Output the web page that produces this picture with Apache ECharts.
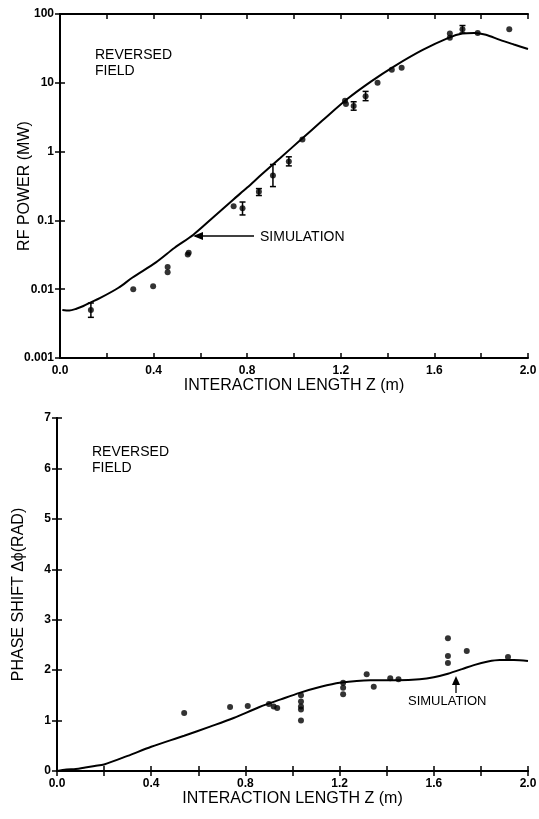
<!DOCTYPE html>
<html>
<head>
<meta charset="utf-8">
<script src="https://cdn.jsdelivr.net/npm/echarts@6/dist/echarts.min.js"></script>
<style>
html,body{margin:0;padding:0;background:#fff;}
#chart{width:539px;height:819px;}
</style>
</head>
<body>
<div id="chart"></div>
<script>
// ---------- DATA ----------
var xTicks = [0, 0.4, 0.8, 1.2, 1.6, 2.0];
var xTickLabels = ['0.0', '0.4', '0.8', '1.2', '1.6', '2.0'];
var powerTicks = [0.001, 0.01, 0.1, 1, 10, 100];
var powerTickLabels = ['0.001', '0.01', '0.1', '1', '10', '100'];
var phaseTickLabels = ['0', '1', '2', '3', '4', '5', '6', '7'];

// Top: RF power simulation curve [z, MW]
var powerSim = [
  [0.01,0.005],[0.04,0.0049],[0.07,0.0052],[0.1,0.0057],[0.13,0.0064],[0.17,0.0074],
  [0.25,0.0105],[0.31,0.0148],[0.41,0.0245],[0.49,0.04],[0.57,0.062],[0.66,0.115],
  [0.74,0.2],[0.8,0.3],[0.86,0.46],[0.94,0.8],[1.03,1.5],[1.12,2.8],[1.23,5.9],
  [1.33,10.5],[1.43,17.5],[1.55,30],[1.66,45],[1.72,52],[1.77,53],[1.82,50],
  [1.88,42],[1.94,36],[2.0,31]
];
// Top: measured RF power [z, MW]
var powerMeas = [
  [0.132,0.005],[0.313,0.01],[0.398,0.011],[0.46,0.021],[0.46,0.0177],
  [0.546,0.032],[0.55,0.034],[0.742,0.16],[0.78,0.15],[0.85,0.26],[0.91,0.45],
  [0.978,0.72],[1.036,1.5],[1.218,5.5],[1.222,4.9],[1.255,4.6],[1.306,6.4],
  [1.357,10],[1.418,15.5],[1.46,16.5],[1.666,52],[1.666,45],[1.72,60],
  [1.785,53],[1.92,60]
];
// Top: error bars [z, low, high]
var powerErr = [
  [0.132,0.0039,0.0063],[0.78,0.12,0.185],[0.85,0.23,0.29],[0.91,0.31,0.65],
  [0.978,0.62,0.84],[1.255,4.0,5.3],[1.306,5.5,7.5],[1.72,53,68]
];

// Bottom: phase shift simulation curve [z, rad]
var phaseSim = [
  [0,0],[0.04,0.03],[0.08,0.04],[0.12,0.07],[0.16,0.1],[0.2,0.13],[0.3,0.3],
  [0.4,0.48],[0.54,0.7],[0.65,0.88],[0.75,1.05],[0.86,1.27],[0.95,1.42],
  [1.03,1.55],[1.12,1.67],[1.2,1.75],[1.33,1.8],[1.45,1.8],[1.54,1.82],
  [1.6,1.86],[1.66,1.93],[1.72,2.02],[1.77,2.1],[1.83,2.17],[1.88,2.2],
  [1.94,2.2],[2.0,2.18]
];
// Bottom: measured phase shift [z, rad]
var phaseMeas = [
  [0.54,1.15],[0.735,1.27],[0.81,1.29],[0.9,1.33],[0.92,1.28],[0.935,1.25],
  [1.036,1.5],[1.036,1.38],[1.036,1.28],[1.036,1.22],[1.036,1.0],
  [1.215,1.75],[1.215,1.65],[1.215,1.52],[1.315,1.92],[1.345,1.67],
  [1.415,1.84],[1.45,1.82],[1.66,2.63],[1.66,2.28],[1.66,2.14],
  [1.74,2.38],[1.915,2.26]
];

// ---------- CHART ----------
var font = 'Liberation Sans';
var chart = echarts.init(document.getElementById('chart'), null, {renderer:'canvas'});

function xLabelFmt(v){
  for (var i=0;i<xTicks.length;i++){ if (Math.abs(v-xTicks[i])<1e-6) return xTickLabels[i]; }
  return '';
}
function powerLabelFmt(v){
  for (var i=0;i<powerTicks.length;i++){ if (Math.abs(Math.log10(v)-Math.log10(powerTicks[i]))<1e-6) return powerTickLabels[i]; }
  return '';
}
var axisLine = {show:true, lineStyle:{color:'#000', width:2}};
var tick = {show:true, inside:true, length:5, lineStyle:{color:'#000', width:1.5}};
var lbl = {color:'#000', fontFamily:font, fontSize:12, fontWeight:'bold'};
var nameStyle = {color:'#000', fontFamily:font, fontSize:16};

function errRender(params, api){
  var x = api.value(0), lo = api.value(1), hi = api.value(2);
  var p1 = api.coord([x, lo]), p2 = api.coord([x, hi]);
  var w = 3, st = {stroke:'#000', lineWidth:1.5};
  return {type:'group', children:[
    {type:'line', shape:{x1:p1[0],y1:p1[1],x2:p2[0],y2:p2[1]}, style:st},
    {type:'line', shape:{x1:p1[0]-w,y1:p1[1],x2:p1[0]+w,y2:p1[1]}, style:st},
    {type:'line', shape:{x1:p2[0]-w,y1:p2[1],x2:p2[0]+w,y2:p2[1]}, style:st}
  ]};
}

var xBase = {
  type:'value', min:0, max:2, interval:0.2,
  axisLine:axisLine, axisTick:tick, splitLine:{show:false}
};

var option = {
  animation:false,
  backgroundColor:'#fff',
  grid:[
    {left:60, right:11, top:14, height:344, outerBoundsMode:'none', containLabel:false},
    {left:57, right:11, top:418, height:353, outerBoundsMode:'none', containLabel:false}
  ],
  xAxis:[
    Object.assign({}, xBase, {gridIndex:0, position:'bottom',
      axisLabel:Object.assign({}, lbl, {margin:7, formatter:xLabelFmt}),
      name:'INTERACTION LENGTH Z (m)', nameLocation:'middle', nameGap:20, nameMoveOverlap:false,
      nameTextStyle:nameStyle}),
    Object.assign({}, xBase, {gridIndex:0, position:'top', axisLabel:{show:false}}),
    Object.assign({}, xBase, {gridIndex:1, position:'bottom',
      axisLabel:Object.assign({}, lbl, {margin:7, formatter:xLabelFmt}),
      name:'INTERACTION LENGTH Z (m)', nameLocation:'middle', nameGap:20, nameMoveOverlap:false,
      nameTextStyle:nameStyle}),
    Object.assign({}, xBase, {gridIndex:1, position:'top', axisLabel:{show:false}})
  ],
  yAxis:[
    {type:'log', logBase:10, min:0.001, max:100, gridIndex:0, position:'left',
      axisLine:axisLine, axisTick:tick, splitLine:{show:false},
      axisLabel:Object.assign({}, lbl, {margin:6, formatter:powerLabelFmt}),
      name:'RF POWER (MW)', nameLocation:'middle', nameGap:27, nameMoveOverlap:false,
      nameTextStyle:nameStyle},
    {type:'log', logBase:10, min:0.001, max:100, gridIndex:0, position:'right',
      axisLine:axisLine, axisTick:tick, splitLine:{show:false}, axisLabel:{show:false}},
    {type:'value', min:0, max:7, interval:1, gridIndex:1, position:'left',
      axisLine:axisLine, axisTick:tick, splitLine:{show:false},
      axisLabel:Object.assign({}, lbl, {margin:6, formatter:function(v){return phaseTickLabels[Math.round(v)];}}),
      name:'PHASE SHIFT \u0394\u03d5(RAD)', nameLocation:'middle', nameGap:30, nameMoveOverlap:false,
      nameTextStyle:nameStyle},
    {type:'value', min:0, max:7, interval:1, gridIndex:1, position:'right',
      axisLine:axisLine, axisTick:tick, splitLine:{show:false}, axisLabel:{show:false}}
  ],
  series:[
    {type:'line', xAxisIndex:0, yAxisIndex:0, data:powerSim, smooth:0.3, showSymbol:false,
      lineStyle:{color:'#000', width:2}},
    {type:'custom', xAxisIndex:0, yAxisIndex:0, data:powerErr, renderItem:errRender},
    {type:'scatter', xAxisIndex:0, yAxisIndex:0, data:powerMeas, symbolSize:6,
      itemStyle:{color:'#000'}},
    {type:'line', xAxisIndex:2, yAxisIndex:2, data:phaseSim, smooth:0.3, showSymbol:false,
      lineStyle:{color:'#000', width:2}},
    {type:'scatter', xAxisIndex:2, yAxisIndex:2, data:phaseMeas, symbolSize:6,
      itemStyle:{color:'#000'}}
  ],
  graphic:[
    {type:'text', left:95, top:47, style:{text:'REVERSED\nFIELD', fill:'#000', font:'14px "Liberation Sans"', lineHeight:16}},
    {type:'text', left:92, top:444, style:{text:'REVERSED\nFIELD', fill:'#000', font:'14px "Liberation Sans"', lineHeight:16}},
    // top SIMULATION label with left arrow
    {type:'text', left:260, top:230, style:{text:'SIMULATION', fill:'#000', font:'14px "Liberation Sans"'}},
    {type:'line', shape:{x1:195,y1:236,x2:254,y2:236}, style:{stroke:'#000', lineWidth:1.3}},
    {type:'polygon', shape:{points:[[193,236],[203,232],[203,240]]}, style:{fill:'#000'}},
    // bottom SIMULATION label with up arrow
    {type:'text', left:408, top:695, style:{text:'SIMULATION', fill:'#000', font:'13px "Liberation Sans"'}},
    {type:'line', shape:{x1:456,y1:693,x2:456,y2:679}, style:{stroke:'#000', lineWidth:1.3}},
    {type:'polygon', shape:{points:[[456,676],[452,685],[460,685]]}, style:{fill:'#000'}}
  ]
};
chart.setOption(option);
</script>
</body>
</html>
